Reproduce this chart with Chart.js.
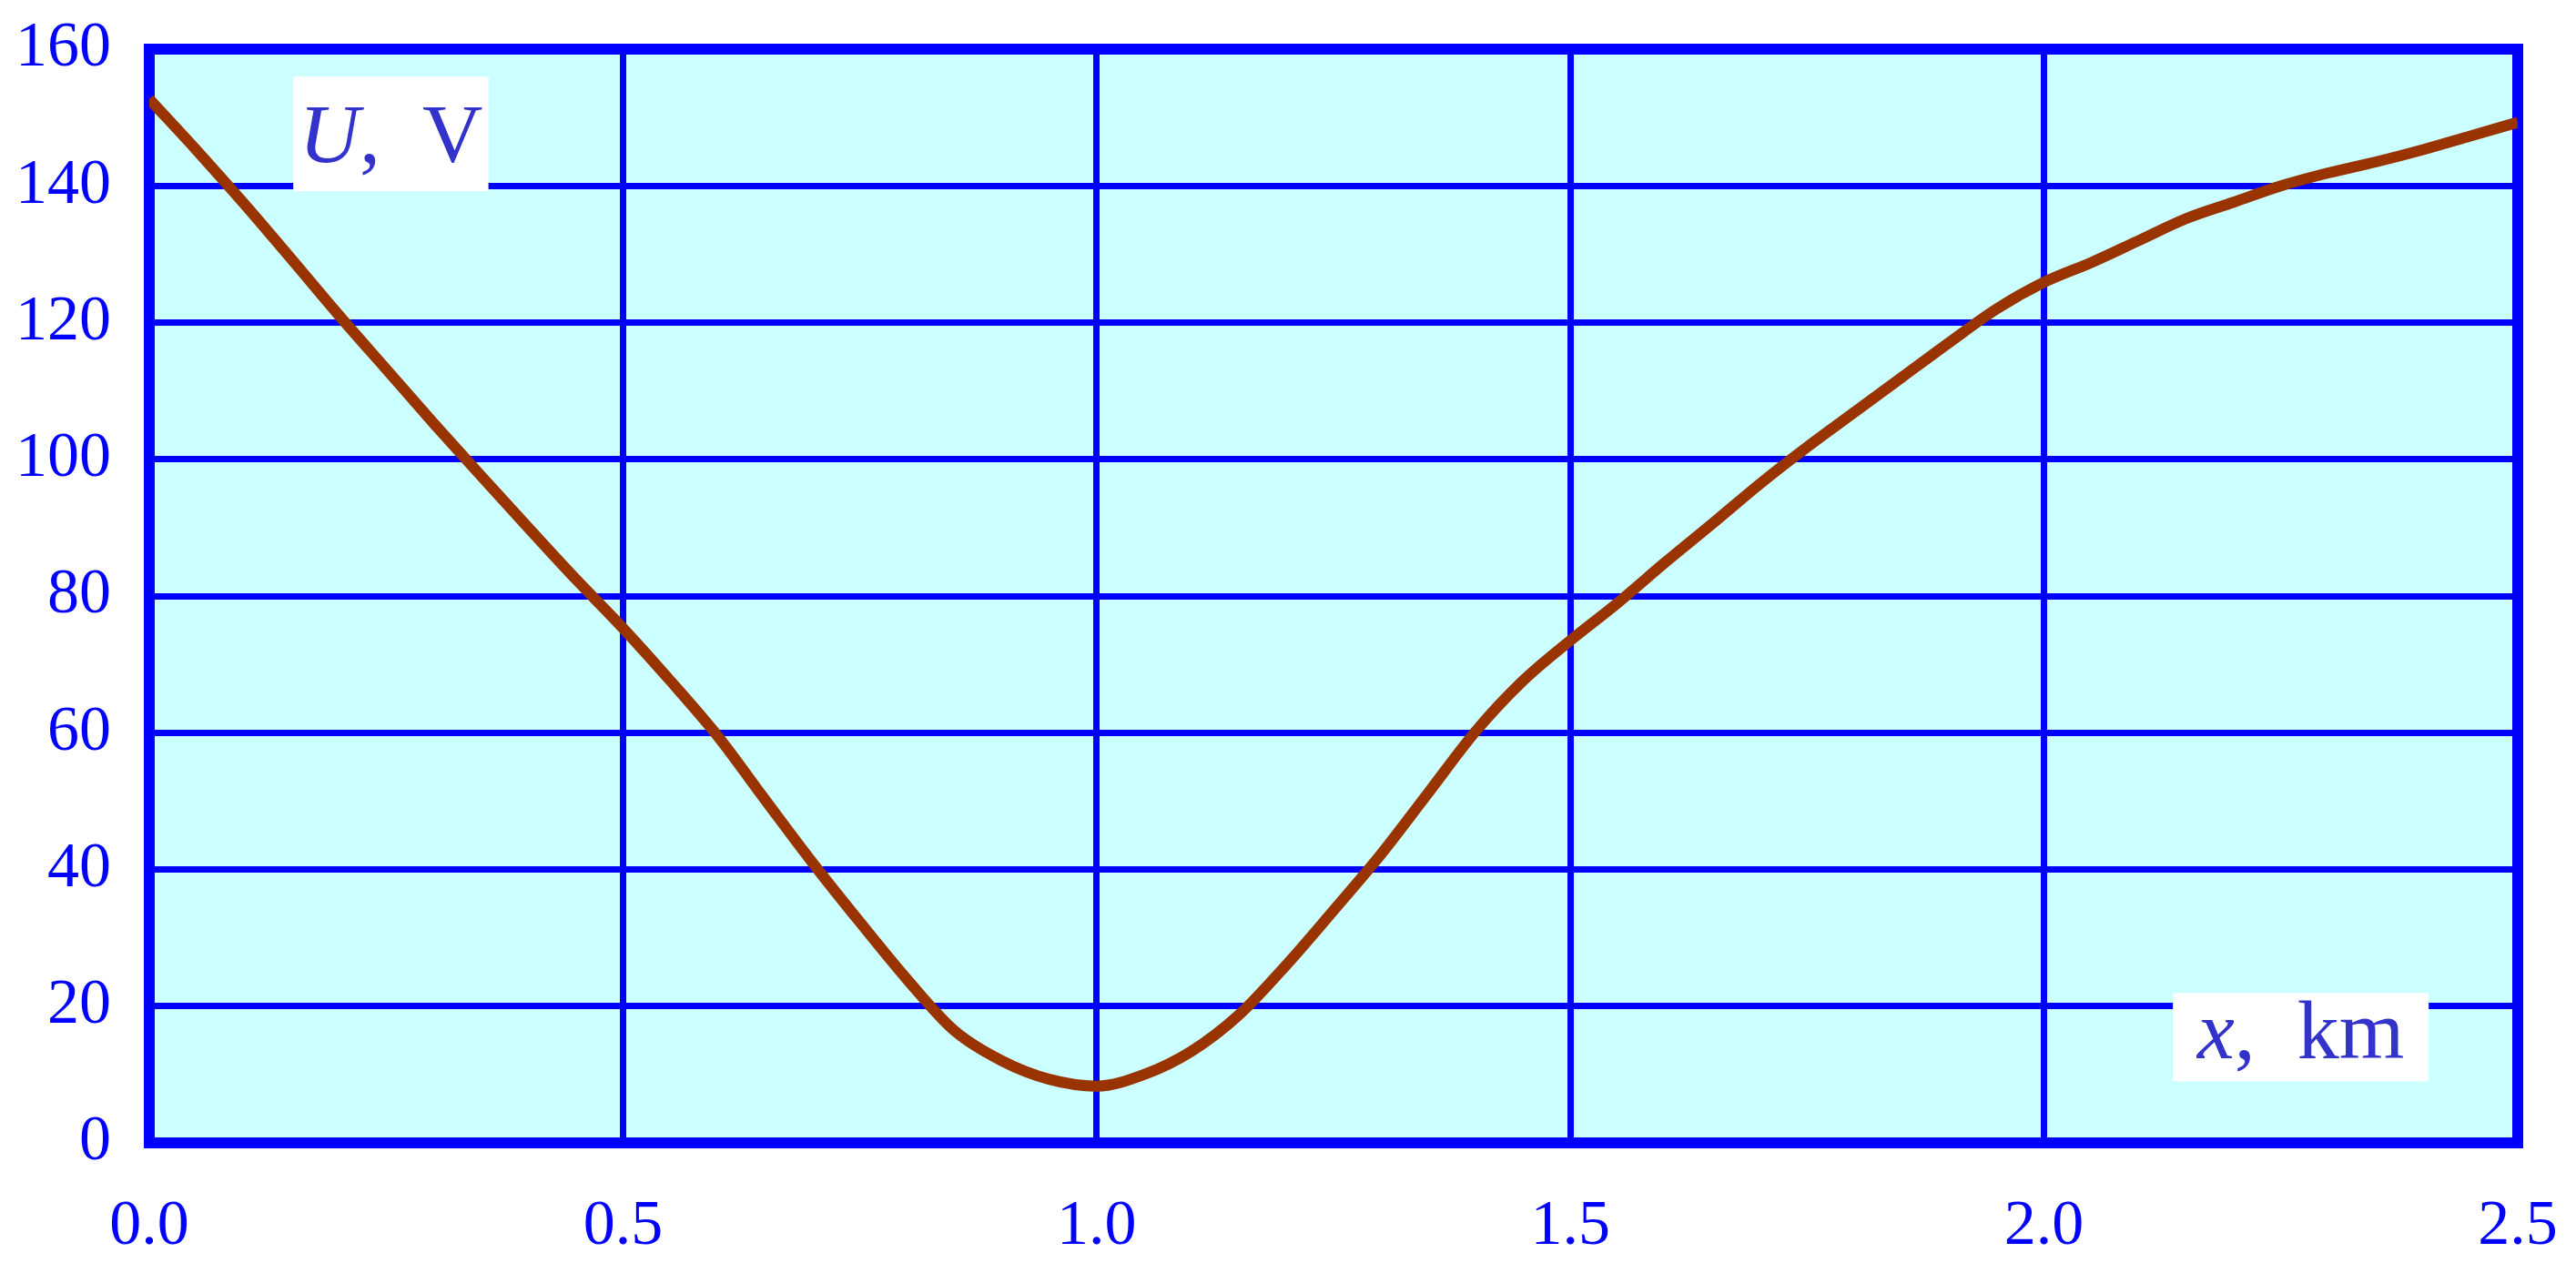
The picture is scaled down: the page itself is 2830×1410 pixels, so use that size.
<!DOCTYPE html>
<html>
<head>
<meta charset="utf-8">
<title>U(x)</title>
<script src="https://cdn.jsdelivr.net/npm/chart.js@4/dist/chart.umd.min.js"></script>
<style>
  html, body { margin: 0; padding: 0; background: #ffffff; }
  #chart { display: block; }
</style>
</head>
<body>
<canvas id="chart" width="2830" height="1410"></canvas>
<script>
// distance along the line, km
const distanceKm = [
    0.00, 0.05, 0.10, 0.15, 0.20, 0.25, 0.30, 0.35, 0.40, 0.45,
    0.50, 0.55, 0.60, 0.65, 0.70, 0.75, 0.80, 0.85, 0.90, 0.95,
    1.00, 1.05, 1.10, 1.15, 1.20, 1.25, 1.30, 1.35, 1.40, 1.45,
    1.50, 1.55, 1.60, 1.65, 1.70, 1.75, 1.80, 1.85, 1.90, 1.95,
    2.00, 2.05, 2.10, 2.15, 2.20, 2.25, 2.30, 2.35, 2.40, 2.45, 2.50
];
// voltage U, V
const voltage = [
    152.7, 145.2, 137.4, 129.3, 121.1, 113.2, 105.3, 97.6, 90.0, 82.5,
    75.3, 67.6, 59.5, 50.2, 41.0, 32.3, 23.9, 16.4, 12.0, 9.3,
    8.3, 10.0, 13.4, 18.7, 26.0, 34.0, 42.2, 51.2, 60.2, 67.6,
    73.5, 79.0, 84.9, 90.6, 96.4, 101.8, 106.9, 112.0, 117.1, 122.0,
    125.9, 128.8, 132.0, 135.2, 137.6, 140.0, 141.9, 143.5, 145.3, 147.3, 149.3
];
const xTicks = [0, 0.5, 1.0, 1.5, 2.0, 2.5];
const yTicks = [0, 20, 40, 60, 80, 100, 120, 140, 160];
const yTitle = ["U", ", V"];
const xTitle = ["x", ", km"];

const BLUE = "#0000ff";
const TEXT = "#3333cc";

// plot background, frame and the two white captions
const framePlugin = {
    id: "frame",
    beforeDraw(chart) {
        const { ctx, chartArea: a } = chart;
        ctx.save();
        ctx.fillStyle = "#ffffff";
        ctx.fillRect(0, 0, chart.width, chart.height);
        ctx.fillStyle = "#ccffff";
        ctx.fillRect(a.left, a.top, a.right - a.left, a.bottom - a.top);
        ctx.restore();
    },
    beforeDatasetsDraw(chart) {
        const { ctx, chartArea: a } = chart;
        ctx.save();
        ctx.strokeStyle = BLUE;
        ctx.lineWidth = 12;
        ctx.strokeRect(a.left, a.top, a.right - a.left, a.bottom - a.top);

        const xs = chart.scales.x, ys = chart.scales.y;
        drawCaption(ctx, yTitle, xs.getPixelForValue(0.152), ys.getPixelForValue(156),
            xs.getPixelForValue(0.358), ys.getPixelForValue(139.2), ys.getPixelForValue(143.5));
        drawCaption(ctx, xTitle, xs.getPixelForValue(2.136), ys.getPixelForValue(21.9),
            xs.getPixelForValue(2.406), ys.getPixelForValue(9.0), ys.getPixelForValue(12.4));
        ctx.restore();
    }
};

function drawCaption(ctx, parts, x1, y1, x2, y2, baseline) {
    ctx.fillStyle = "#ffffff";
    ctx.fillRect(x1, y1, x2 - x1, y2 - y1);
    ctx.fillStyle = TEXT;
    ctx.textBaseline = "alphabetic";
    ctx.textAlign = "left";
    const italic = "italic 92px 'Liberation Serif', 'DejaVu Serif', serif";
    const upright = "92px 'Liberation Serif', 'DejaVu Serif', serif";
    const rest = parts[1].replace(" ", "  ");
    ctx.font = italic;
    const w1 = ctx.measureText(parts[0]).width;
    ctx.font = upright;
    const w2 = ctx.measureText(rest).width;
    const x = (x1 + x2) / 2 - (w1 + w2) / 2;
    ctx.font = italic;
    ctx.fillText(parts[0], x, baseline);
    ctx.font = upright;
    ctx.fillText(rest, x + w1, baseline);
}

const tickFont = { family: "'Liberation Serif', 'DejaVu Serif', serif", size: 70 };

new Chart(document.getElementById("chart").getContext("2d"), {
    type: "line",
    data: {
        datasets: [{
            data: distanceKm.map((d, i) => ({ x: d, y: voltage[i] })),
            borderColor: "#993300",
            borderWidth: 12,
            pointRadius: 0,
            cubicInterpolationMode: "monotone",
            borderJoinStyle: "round",
            fill: false
        }]
    },
    options: {
        responsive: false,
        devicePixelRatio: 1,
        animation: false,
        layout: { padding: { top: 54, right: 64, left: 0, bottom: 0 } },
        plugins: {
            legend: { display: false },
            tooltip: { enabled: false }
        },
        scales: {
            x: {
                type: "linear",
                min: 0,
                max: 2.5,
                afterBuildTicks: s => { s.ticks = xTicks.map(v => ({ value: v })); },
                afterFit: s => {
                    s.height = 154;
                    s.paddingLeft = 0;
                    s.paddingRight = 0;
                },
                grid: { color: BLUE, lineWidth: 7, drawTicks: false },
                border: { display: false },
                ticks: {
                    color: BLUE,
                    font: tickFont,
                    padding: 51,
                    maxRotation: 0,
                    callback: v => Number(v).toFixed(1)
                }
            },
            y: {
                min: 0,
                max: 160,
                afterBuildTicks: s => { s.ticks = yTicks.map(v => ({ value: v })); },
                afterFit: s => {
                    s.width = 164;
                    s.paddingTop = 0;
                    s.paddingBottom = 0;
                },
                grid: { color: BLUE, lineWidth: 7, drawTicks: false },
                border: { display: false },
                ticks: {
                    color: BLUE,
                    font: tickFont,
                    padding: 42,
                    callback: v => String(v)
                }
            }
        }
    },
    plugins: [framePlugin]
});
</script>
</body>
</html>
